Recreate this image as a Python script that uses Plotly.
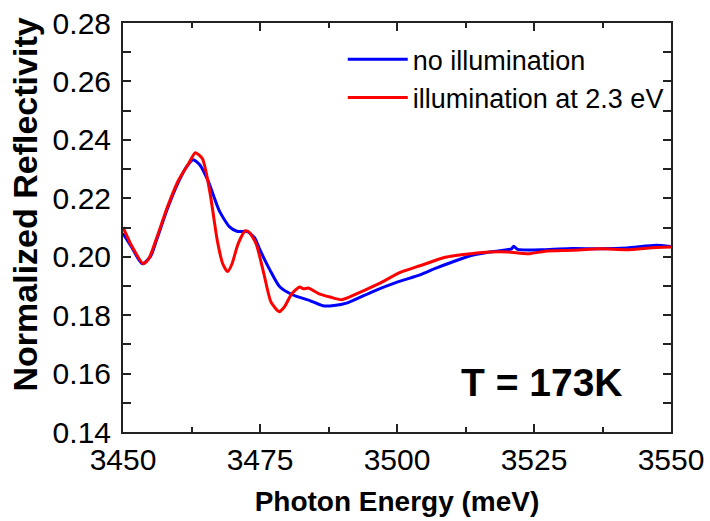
import plotly.graph_objects as go

# Data
energy_blue = [3450, 3451.5, 3453.5, 3455, 3456.1, 3458.1, 3460.1, 3461.5, 3462.8, 3464, 3465.5,
               3467.6, 3469.4, 3470.8, 3472.7, 3474.0, 3475.0, 3476.8, 3478.6, 3481.0, 3484.1,
               3486.5, 3488.5, 3490.8, 3495.5, 3500, 3504.2, 3507, 3510.1, 3513.5, 3516.9,
               3520.9, 3521.3, 3522, 3527, 3532, 3537.2, 3542, 3547.3, 3550]
refl_blue = [0.2080, 0.2035, 0.1976, 0.2000, 0.2056, 0.2164, 0.2255, 0.2305, 0.2332, 0.2315, 0.2261,
             0.2156, 0.2103, 0.2087, 0.2086, 0.2065, 0.2023, 0.1955, 0.1897, 0.1869, 0.1850,
             0.1832, 0.1833, 0.1841, 0.1880, 0.1913, 0.1938, 0.1960, 0.1982, 0.2004, 0.2016,
             0.2027, 0.2036, 0.2025, 0.2024, 0.2028, 0.2027, 0.2030, 0.2039, 0.2035]

energy_red = [3450, 3451.4, 3453.7, 3454.7, 3456.1, 3458.1, 3460.1, 3462, 3463.2, 3464.5, 3465.9,
              3467.2, 3468.2, 3469.1, 3469.9, 3471.0, 3472.3, 3473.0, 3474.3, 3475.7, 3477.0,
              3478.5, 3479.4, 3480.8, 3482.2, 3483.0, 3483.8, 3485.8, 3487.8, 3489.9, 3492.6,
              3496.6, 3500.7, 3504.2, 3508.8, 3513.5, 3517, 3520.3, 3524, 3527, 3532, 3537.2,
              3542, 3546, 3550]
refl_red = [0.2101, 0.2044, 0.1976, 0.1993, 0.2062, 0.2170, 0.2261, 0.2320, 0.2356, 0.2335, 0.2216,
            0.2056, 0.1976, 0.1949, 0.1976, 0.2044, 0.2088, 0.2084, 0.2044, 0.1942, 0.1845,
            0.1812, 0.1827, 0.1873, 0.1896, 0.1890, 0.1893, 0.1873, 0.1862, 0.1853, 0.1873,
            0.1907, 0.1947, 0.1969, 0.1998, 0.2010, 0.2016, 0.2016, 0.2010, 0.2019, 0.2022,
            0.2027, 0.2024, 0.2030, 0.2033]

x_ticks = [3450, 3475, 3500, 3525, 3550]
y_ticks = [0.14, 0.16, 0.18, 0.20, 0.22, 0.24, 0.26, 0.28]
y_tick_labels = ["0.14", "0.16", "0.18", "0.20", "0.22", "0.24", "0.26", "0.28"]

FONT = "Arial, Liberation Sans, sans-serif"

fig = go.Figure()
fig.add_trace(go.Scatter(x=energy_blue, y=refl_blue, mode="lines", name="no illumination",
                         line=dict(color="#0000FF", width=3, shape="spline", smoothing=0.6)))
fig.add_trace(go.Scatter(x=energy_red, y=refl_red, mode="lines", name="illumination at 2.3 eV",
                         line=dict(color="#FF0000", width=3, shape="spline", smoothing=0.6)))

axis_common = dict(showline=True, linecolor="#222222", linewidth=2, mirror="ticks",
                   ticks="inside", ticklen=8, tickwidth=1.5, tickcolor="#222222",
                   showgrid=False, zeroline=False, automargin=False,
                   tickfont=dict(family=FONT, size=30, color="black"))

fig.update_xaxes(range=[3450, 3550], tickvals=x_ticks,
                 minor=dict(ticks="inside", ticklen=5, tickwidth=1.5, tickcolor="#222222", dtick=12.5,
                            showgrid=False),
                 title=dict(text="<b>Photon Energy (meV)</b>", font=dict(family=FONT, size=28, color="black"),
                            standoff=16),
                 **axis_common)
fig.update_yaxes(range=[0.14, 0.28], tickvals=y_ticks, ticktext=y_tick_labels,
                 ticklabelstandoff=4,
                 minor=dict(ticks="inside", ticklen=8, tickwidth=1.5, tickcolor="#222222", dtick=0.01,
                            showgrid=False),
                 **axis_common)

# y-axis title (placed as annotation to match the reference's position)
fig.add_annotation(x=-0.179, y=0.556, xref="paper", yref="paper", text="<b>Normalized Reflectivity</b>",
                   textangle=-90, xanchor="center", yanchor="middle", showarrow=False,
                   font=dict(family=FONT, size=34, color="black"))

fig.add_annotation(x=0.765, y=0.12, xref="paper", yref="paper", text="<b>T = 173K</b>",
                   xanchor="center", yanchor="middle",
                   showarrow=False, font=dict(family=FONT, size=39, color="black"))

fig.update_layout(
    width=710, height=521,
    margin=dict(l=123, r=39, t=23, b=89),
    paper_bgcolor="white", plot_bgcolor="white",
    legend=dict(x=0.401, y=0.97, xanchor="left", yanchor="top", bgcolor="rgba(0,0,0,0)",
                font=dict(family=FONT, size=27, color="black"), itemwidth=60, tracegroupgap=0),
    showlegend=True,
)

fig.write_html("out.html", config={"displayModeBar": False},
               post_script="document.body.style.margin='0px';document.body.style.overflow='hidden';")
